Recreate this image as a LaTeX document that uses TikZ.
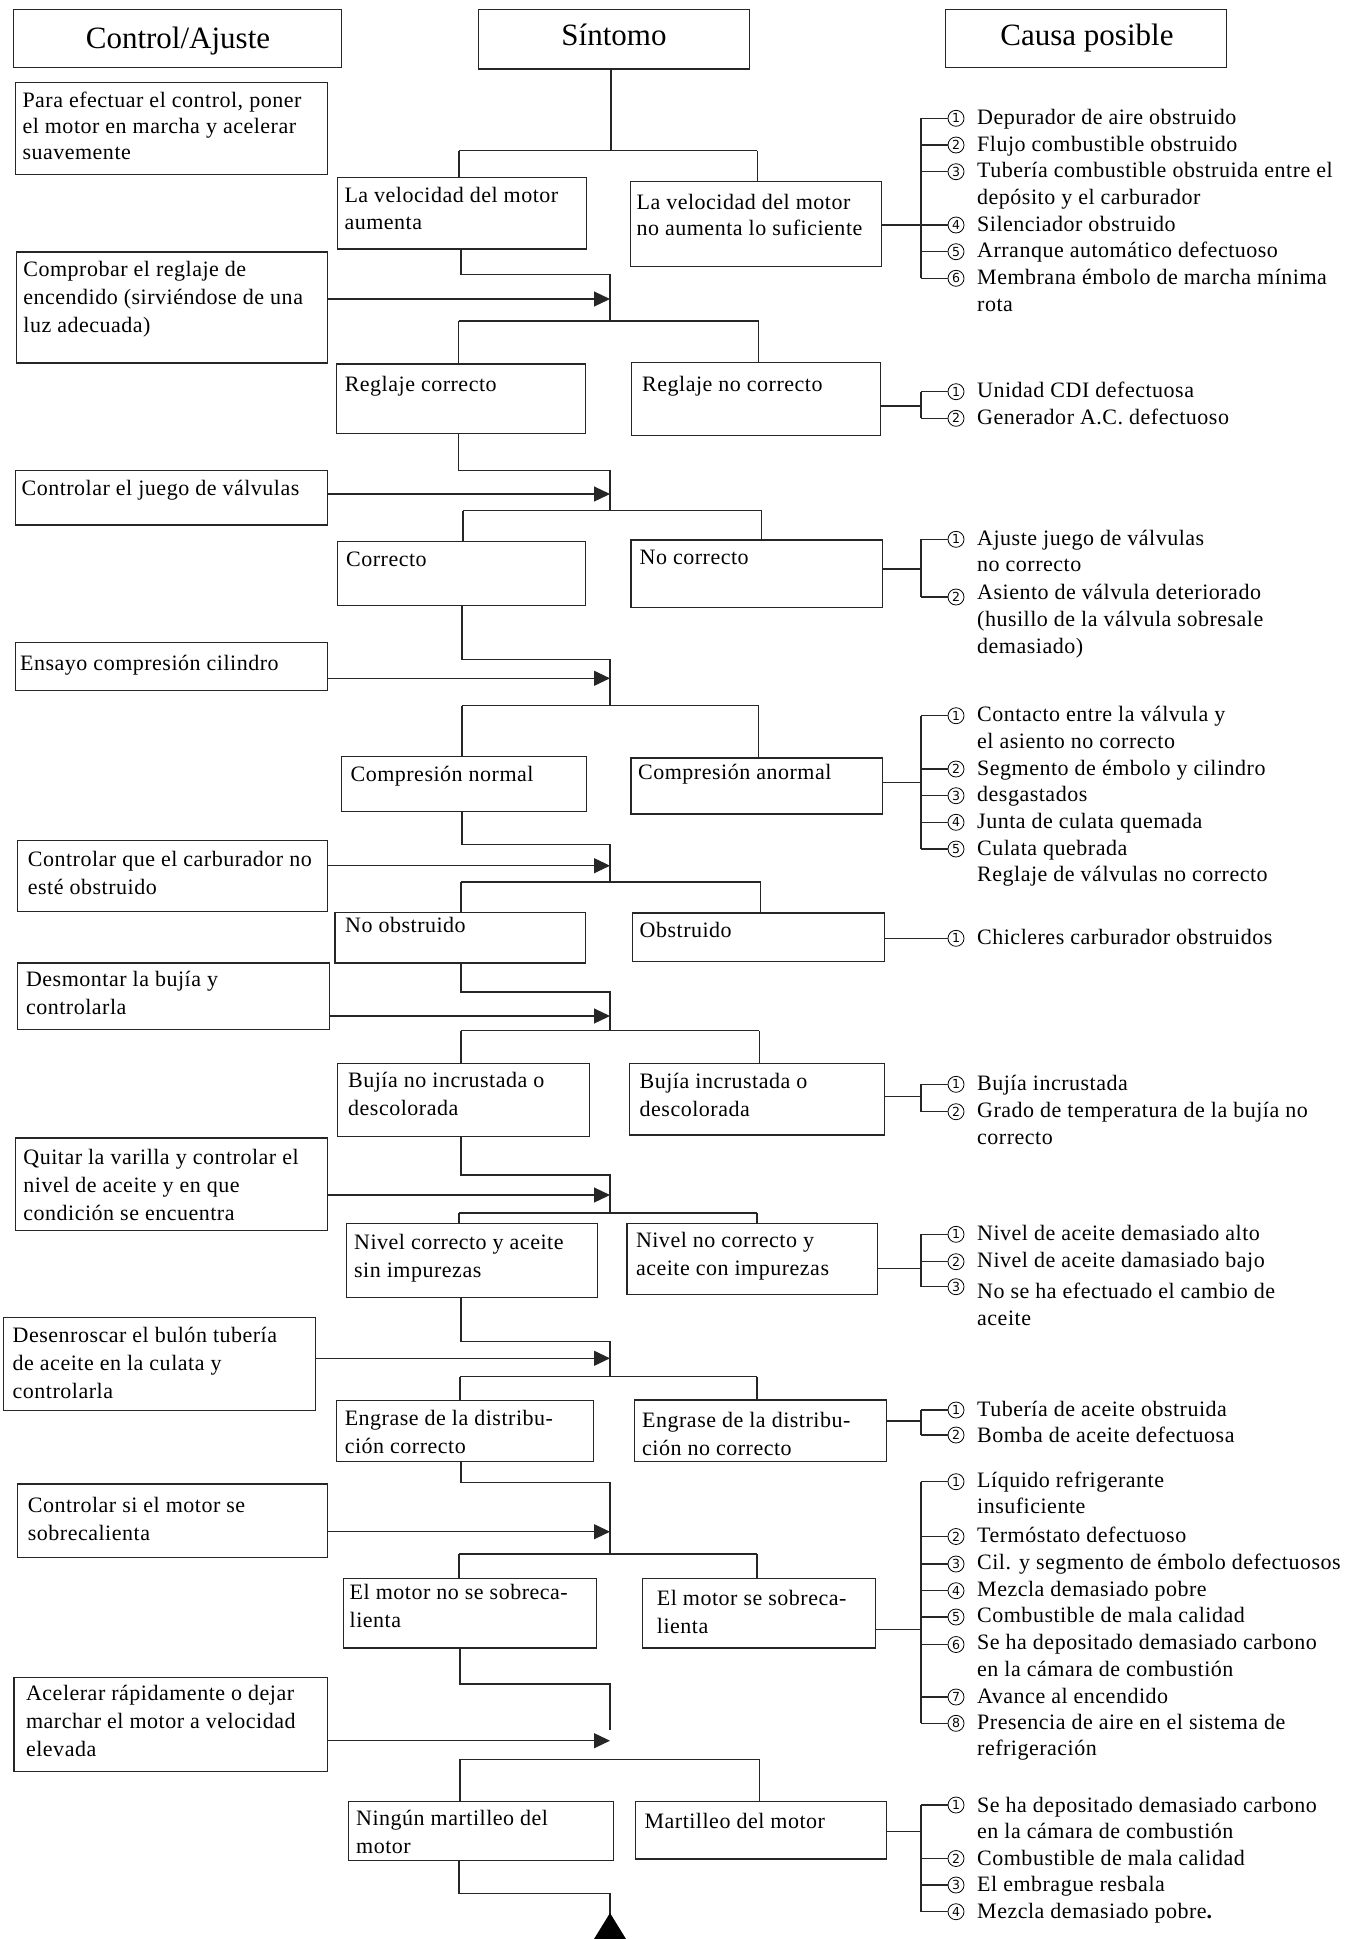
\documentclass[tikz,border=0pt]{standalone}
\usepackage{fontspec}
\setmainfont{Liberation Serif}[LetterSpace=2.3]
\newfontfamily\ttlfont{Liberation Serif}
\newfontfamily\numfont{DejaVu Sans}
\usetikzlibrary{arrows.meta}
\newcommand\Tln[1]{\hbox{#1}}
\newcommand\bx[5]{\node[boxst,anchor=north west,minimum width={#4pt-#2pt},minimum height={#5pt-#3pt}] (#1) at (#2,#3) {};}
\newcommand\tx[5]{\node[txt,anchor=base west] (#1) at (#2,#3) {\vtop{\baselineskip=#4pt #5}};}
\newcommand\lvl[9]{%
 \coordinate (#1a) at (#3,#4); \coordinate (#1b) at (610,#4); \coordinate (#1c) at (610,#5);
 \coordinate (#1l) at (#6,#5); \coordinate (#1r) at (#7,#5);
 \draw[conn] (#2.south -| #1a) -- (#1a) -- (#1b) -- (#1c);
 \draw[conn] (#1l) -- (#1r);
 \draw[conn] (#1l) -- (#8.north -| #1l);
 \draw[conn] (#1r) -- (#9.north -| #1r);}
\newcommand\arw[3]{\coordinate (#1) at (610,#3); \draw[arr] (#2.east |- #1) -- (#1);}
\newcommand\cause[5]{\node[numc] (#1) at (956,#2) {#3}; \draw[conn] (#1.west) -- (#1.west -| bx); \tx{#1t}{977}{#4}{26.7}{#5}}
\newcommand\feed[2]{\coordinate (#1f) at (921,#2); \draw[conn] (#1.east |- #1f) -- (#1f);}
\newcommand\brk[2]{\draw[conn] (#1.west -| bx) -- (#2.west -| bx);}
\begin{document}
\begin{tikzpicture}[x=1pt,y=-1pt,
  boxst/.style={draw=black!85,line width=1.25pt,inner sep=0pt,rectangle},
  txt/.style={inner sep=0pt,font=\fontsize{22}{27}\selectfont,text=black},
  ttl/.style={inner sep=0pt,font=\ttlfont\fontsize{31}{31}\selectfont},
  numc/.style={circle,draw=black,line width=0.8pt,inner sep=0pt,minimum size=16pt,font=\numfont\fontsize{12.5}{12.5}\selectfont},
  conn/.style={draw=black!85,line width=1.2pt},
  arr/.style={conn,-{Triangle[length=16pt,width=15pt]}}]
\useasboundingbox (0,0) rectangle (1347,1939);
\coordinate (bx) at (921,0);
% titles
\bx{hc}{12.5}{9}{340.6}{66.7}
\node[ttl,anchor=base] (hct) at (178,48) {Control/Ajuste};
\bx{hs}{477.7}{9}{748.8}{68.3}
\node[ttl,anchor=base] (hst) at (614,45) {Síntomo};
\bx{hp}{945}{9}{1225.6}{66.7}
\node[ttl,anchor=base] (hpt) at (1087,45) {Causa posible};
% control column
\bx{c1}{14.7}{81.7}{327.2}{174}
\tx{c1t}{22.3}{107.8}{26}{\Tln{Para efectuar el control, poner}\Tln{el motor en marcha y acelerar}\Tln{suavemente}}
\bx{c2}{15.6}{251.3}{327.2}{362.3}
\tx{c2t}{23.2}{276}{28}{\Tln{Comprobar el reglaje de}\Tln{encendido (sirviéndose de una}\Tln{luz adecuada)}}
\bx{c3}{14.7}{470}{327}{524.3}
\tx{c3t}{21.4}{495}{27}{\Tln{Controlar el juego de válvulas}}
\bx{c4}{14.7}{641.7}{327}{689.7}
\tx{c4t}{20}{670}{27}{\Tln{Ensayo compresión cilindro}}
\bx{c5}{16.5}{840}{327}{911}
\tx{c5t}{27.7}{866}{28}{\Tln{Controlar que el carburador no}\Tln{esté obstruido}}
\bx{c6}{16.5}{962.3}{329}{1028.7}
\tx{c6t}{25.9}{986.5}{28}{\Tln{Desmontar la bujía y}\Tln{controlarla}}
\bx{c7}{14.7}{1137.3}{327}{1230}
\tx{c7t}{23.2}{1164.5}{28}{\Tln{Quitar la varilla y controlar el}\Tln{nivel de aceite y en que}\Tln{condición se encuentra}}
\bx{c8}{3}{1316.7}{314.7}{1410}
\tx{c8t}{12.5}{1342.3}{28}{\Tln{Desenroscar el bulón tubería}\Tln{de aceite en la culata y}\Tln{controlarla}}
\bx{c9}{16.5}{1483.3}{327}{1556.7}
\tx{c9t}{27.7}{1512.6}{28}{\Tln{Controlar si el motor se}\Tln{sobrecalienta}}
\bx{c10}{13.4}{1676.7}{327}{1771}
\tx{c10t}{25.9}{1700.8}{27.8}{\Tln{Acelerar rápidamente o dejar}\Tln{marchar el motor a velocidad}\Tln{elevada}}
% middle column
\bx{m0}{337}{176.7}{586}{248.3}
\tx{m0t}{344.3}{202.5}{26.5}{\Tln{La velocidad del motor}\Tln{aumenta}}
\bx{m1}{335.7}{363.3}{584.8}{432.7}
\tx{m1t}{344.6}{391}{27}{\Tln{Reglaje correcto}}
\bx{m2}{337}{541}{584.8}{605}
\tx{m2t}{346}{566.5}{27}{\Tln{Correcto}}
\bx{m3}{340.6}{756}{586}{810.7}
\tx{m3t}{350.4}{781.5}{27}{\Tln{Compresión normal}}
\bx{m4}{334.4}{911.7}{584.8}{962.3}
\tx{m4t}{345}{932.5}{27}{\Tln{No obstruido}}
\bx{m5}{337}{1062.7}{589}{1136}
\tx{m5t}{348}{1087.5}{27.5}{\Tln{Bujía no incrustada o}\Tln{descolorada}}
\bx{m6}{345.5}{1222.7}{597}{1296.7}
\tx{m6t}{354}{1249.5}{28}{\Tln{Nivel correcto y aceite}\Tln{sin impurezas}}
\bx{m7}{335.7}{1400}{592.9}{1461}
\tx{m7t}{344.6}{1425}{28}{\Tln{Engrase de la distribu-}\Tln{ción correcto}}
\bx{m8}{342.9}{1577.7}{596}{1647.3}
\tx{m8t}{349.5}{1599.5}{28}{\Tln{El motor no se sobreca-}\Tln{lienta}}
\bx{m9}{347.8}{1801}{612.5}{1860}
\tx{m9t}{356}{1825.5}{28}{\Tln{Ningún martilleo del}\Tln{motor}}
% right column
\bx{r0}{629.5}{180.7}{881}{266}
\tx{r0t}{636.4}{209.5}{26}{\Tln{La velocidad del motor}\Tln{no aumenta lo suficiente}}
\bx{r1}{631}{361.7}{879.7}{435}
\tx{r1t}{642}{391}{27}{\Tln{Reglaje no correcto}}
\bx{r2}{630.4}{539.3}{882}{606.7}
\tx{r2t}{639.5}{564}{27}{\Tln{No correcto}}
\bx{r3}{630.4}{757.3}{882}{813.3}
\tx{r3t}{638}{779}{27}{\Tln{Compresión anormal}}
\bx{r4}{631.7}{912.3}{883.5}{960.7}
\tx{r4t}{639.5}{937.4}{27}{\Tln{Obstruido}}
\bx{r5}{628.6}{1062.7}{883.5}{1134.3}
\tx{r5t}{639.5}{1088.5}{28}{\Tln{Bujía incrustada o}\Tln{descolorada}}
\bx{r6}{626.3}{1222.7}{877}{1294}
\tx{r6t}{635.8}{1247}{28}{\Tln{Nivel no correcto y}\Tln{aceite con impurezas}}
\bx{r7}{634}{1399.3}{885.5}{1461}
\tx{r7t}{642}{1427}{28}{\Tln{Engrase de la distribu-}\Tln{ción no correcto}}
\bx{r8}{642}{1577.7}{874.6}{1647.3}
\tx{r8t}{656.7}{1605.5}{28}{\Tln{El motor se sobreca-}\Tln{lienta}}
\bx{r9}{635}{1801}{885.7}{1858.3}
\tx{r9t}{644.4}{1828.5}{27}{\Tln{Martilleo del motor}}
% tree connectors
\coordinate (j0) at (611,150.7); \coordinate (j0l) at (459,150.7); \coordinate (j0r) at (757.2,150.7);
\draw[conn] (hs.south -| j0) -- (j0);
\draw[conn] (j0l) -- (j0r);
\draw[conn] (j0l) -- (m0.north -| j0l);
\draw[conn] (j0r) -- (r0.north -| j0r);
\lvl{k1}{m0}{461}{274.3}{321}{458.5}{758.6}{m1}{r1}
\arw{a1}{c2}{299}
\lvl{k2}{m1}{458.5}{470.7}{510.7}{463}{761.6}{m2}{r2}
\arw{a2}{c3}{494}
\lvl{k3}{m2}{462}{659.3}{705.7}{462}{758.5}{m3}{r3}
\arw{a3}{c4}{678.3}
\lvl{k4}{m3}{462}{844.7}{882}{461}{760.7}{m4}{r4}
\arw{a4}{c5}{865.7}
\lvl{k5}{m4}{461}{992}{1030.7}{461}{759.4}{m5}{r5}
\arw{a5}{c6}{1016}
\lvl{k6}{m5}{461}{1175}{1213}{459}{757}{m6}{r6}
\arw{a6}{c7}{1195}
\lvl{k7}{m6}{461}{1341.7}{1376.7}{460}{757}{m7}{r7}
\arw{a7}{c8}{1358.3}
\lvl{k8}{m7}{461}{1482.3}{1554}{459}{757}{m8}{r8}
\arw{a8}{c9}{1531.7}
\coordinate (k9a) at (460,1684); \coordinate (k9b) at (610,1684); \coordinate (k9c) at (610,1730);
\draw[conn] (m8.south -| k9a) -- (k9a) -- (k9b) -- (k9c);
\coordinate (k9l) at (460,1759.3); \coordinate (k9r) at (759.4,1759.3);
\draw[conn] (k9l) -- (k9r);
\draw[conn] (k9l) -- (m9.north -| k9l);
\draw[conn] (k9r) -- (r9.north -| k9r);
\arw{a9}{c10}{1740.7}
\coordinate (k10a) at (459,1893.3); \coordinate (k10b) at (610,1893.3); \coordinate (k10c) at (610,1916);
\draw[conn] (m9.south -| k10a) -- (k10a) -- (k10b) -- (k10c);
\fill[black] (610,1913) -- (594,1939) -- (626,1939) -- cycle;
% causes
\feed{r0}{225}
\cause{g0a}{118.3}{1}{124.3}{\Tln{Depurador de aire obstruido}}
\cause{g0b}{145}{2}{151}{\Tln{Flujo combustible obstruido}}
\cause{g0c}{171.7}{3}{177.7}{\Tln{Tubería combustible obstruida entre el}\Tln{depósito y el carburador}}
\cause{g0d}{225}{4}{231}{\Tln{Silenciador obstruido}}
\cause{g0e}{251.7}{5}{257.7}{\Tln{Arranque automático defectuoso}}
\cause{g0f}{278.3}{6}{284.3}{\Tln{Membrana émbolo de marcha mínima}\Tln{rota}}
\brk{g0a}{g0f}
\feed{r1}{406}
\cause{g1a}{391.7}{1}{397.7}{\Tln{Unidad CDI defectuosa}}
\cause{g1b}{418.3}{2}{424.3}{\Tln{Generador A.C. defectuoso}}
\brk{g1a}{g1b}
\feed{r2}{569}
\cause{g2a}{539.3}{1}{545}{\Tln{Ajuste juego de válvulas}\Tln{no correcto}}
\cause{g2b}{597}{2}{599.7}{\Tln{Asiento de válvula deteriorado}\Tln{(husillo de la válvula sobresale}\Tln{demasiado)}}
\brk{g2a}{g2b}
\feed{r3}{782.3}
\cause{g3a}{715.7}{1}{721.7}{\Tln{Contacto entre la válvula y}\Tln{el asiento no correcto}}
\cause{g3b}{769}{2}{775}{\Tln{Segmento de émbolo y cilindro}}
\cause{g3c}{795.7}{3}{801.7}{\Tln{desgastados}}
\cause{g3d}{822.3}{4}{828.3}{\Tln{Junta de culata quemada}}
\cause{g3e}{849}{5}{855}{\Tln{Culata quebrada}\Tln{Reglaje de válvulas no correcto}}
\brk{g3a}{g3e}
\feed{r4}{938.3}
\cause{g4a}{938.3}{1}{944.3}{\Tln{Chicleres carburador obstruidos}}
\feed{r5}{1096.7}
\cause{g5a}{1084.3}{1}{1090.3}{\Tln{Bujía incrustada}}
\cause{g5b}{1111.7}{2}{1117.7}{\Tln{Grado de temperatura de la bujía no}\Tln{correcto}}
\brk{g5a}{g5b}
\feed{r6}{1268.3}
\cause{g6a}{1234.3}{1}{1240.3}{\Tln{Nivel de aceite demasiado alto}}
\cause{g6b}{1261.7}{2}{1267.7}{\Tln{Nivel de aceite damasiado bajo}}
\cause{g6c}{1286.7}{3}{1298.6}{\Tln{No se ha efectuado el cambio de}\Tln{aceite}}
\brk{g6a}{g6c}
\feed{r7}{1421}
\cause{g7a}{1410}{1}{1416}{\Tln{Tubería de aceite obstruida}}
\cause{g7b}{1435}{2}{1442}{\Tln{Bomba de aceite defectuosa}}
\brk{g7a}{g7b}
\feed{r8}{1629.3}
\cause{g8a}{1481.7}{1}{1487}{\Tln{Líquido refrigerante}\Tln{insuficiente}}
\cause{g8b}{1536.5}{2}{1542}{\Tln{Termóstato defectuoso}}
\cause{g8c}{1564}{3}{1569.5}{\Tln{Cil. y segmento de émbolo defectuosos}}
\cause{g8d}{1590.7}{4}{1596.7}{\Tln{Mezcla demasiado pobre}}
\cause{g8e}{1617}{5}{1622.6}{\Tln{Combustible de mala calidad}}
\cause{g8f}{1644.5}{6}{1649.8}{\Tln{Se ha depositado demasiado carbono}\Tln{en la cámara de combustión}}
\cause{g8g}{1697}{7}{1703}{\Tln{Avance al encendido}}
\cause{g8h}{1723.3}{8}{1729}{\Tln{Presencia de aire en el sistema de}\Tln{refrigeración}}
\brk{g8a}{g8h}
\feed{r9}{1831.7}
\cause{g9a}{1805}{1}{1812}{\Tln{Se ha depositado demasiado carbono}\Tln{en la cámara de combustión}}
\cause{g9b}{1858.5}{2}{1865}{\Tln{Combustible de mala calidad}}
\cause{g9c}{1885}{3}{1891}{\Tln{El embrague resbala}}
\cause{g9d}{1911.7}{4}{1918}{\Tln{Mezcla demasiado pobre{\bfseries.}}}
\brk{g9a}{g9d}
\end{tikzpicture}
\end{document}
